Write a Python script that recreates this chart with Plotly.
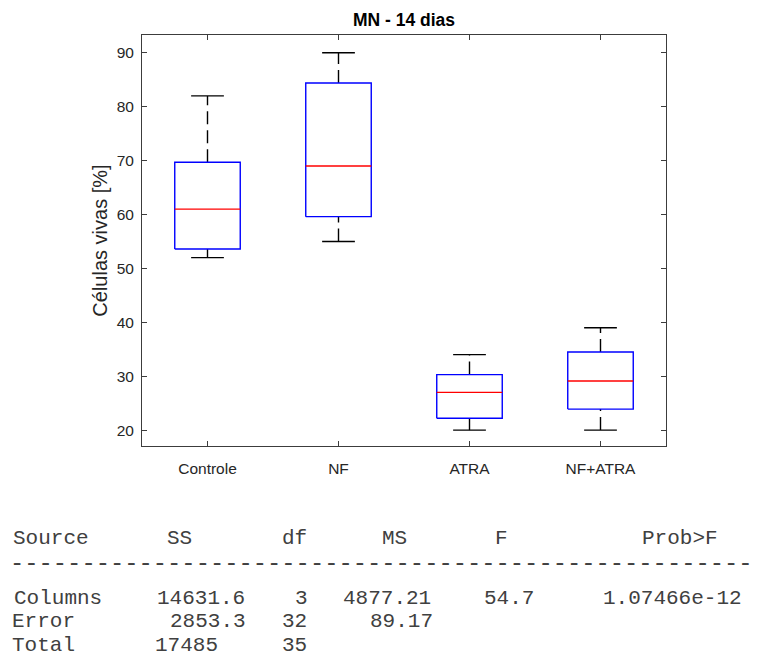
import plotly.graph_objects as go

# ---------------- data ----------------
categories = ["Controle", "NF", "ATRA", "NF+ATRA"]
q1 = [53.6, 59.6, 22.2, 23.9]
medians = [61.0, 69.0, 27.0, 29.1]
q3 = [69.7, 84.4, 30.3, 34.5]
lower_adj = [52.0, 55.0, 20.0, 20.0]
upper_adj = [82.0, 90.0, 34.0, 39.0]
y_ticks = [20, 30, 40, 50, 60, 70, 80, 90]

title_text = "MN - 14 dias"
y_label = "Células vivas [%]"

# ANOVA table
tbl_header = ["Source", "SS", "df", "MS", "F", "Prob>F"]
tbl_source = ["Columns", "Error", "Total"]
tbl_ss = ["14631.6", "2853.3", "17485"]
tbl_df = ["3", "32", "35"]
tbl_ms = ["4877.21", "89.17", ""]
tbl_f = ["54.7", "", ""]
tbl_p = ["1.07466e-12", "", ""]

# ---------------- styling ----------------
HALF_BOX = 0.25
HALF_CAP = 0.125
FONT = "Liberation Sans, Arial, sans-serif"
MONO = "Liberation Mono, Courier New, monospace"
AXCOL = "#3c3c3c"
TXTCOL = "#262626"

bx, by, mx, my, wx, wy, cx, cy = [], [], [], [], [], [], [], []
for i in range(len(categories)):
    p = i + 1
    bx += [p - HALF_BOX, p + HALF_BOX, p + HALF_BOX, p - HALF_BOX, p - HALF_BOX, None]
    by += [q1[i], q1[i], q3[i], q3[i], q1[i], None]
    mx += [p - HALF_BOX, p + HALF_BOX, None]
    my += [medians[i], medians[i], None]
    wx += [p, p, None, p, p, None]
    wy += [lower_adj[i], q1[i], None, q3[i], upper_adj[i], None]
    cx += [p - HALF_CAP, p + HALF_CAP, None, p - HALF_CAP, p + HALF_CAP, None]
    cy += [lower_adj[i], lower_adj[i], None, upper_adj[i], upper_adj[i], None]

fig = go.Figure()
fig.add_trace(go.Scatter(x=wx, y=wy, mode="lines", hoverinfo="skip",
                         line=dict(color="black", width=1.4, dash="13px,6px")))
fig.add_trace(go.Scatter(x=cx, y=cy, mode="lines", hoverinfo="skip",
                         line=dict(color="black", width=1.4)))
fig.add_trace(go.Scatter(x=bx, y=by, mode="lines", hoverinfo="skip",
                         line=dict(color="#0000ff", width=1.4)))
fig.add_trace(go.Scatter(x=mx, y=my, mode="lines", hoverinfo="skip",
                         line=dict(color="#ff0000", width=1.4)))

# page body has an 8px margin -> figure is 8px smaller and offset
OFF = 8
W, H = 758 - OFF, 666 - OFF
L, T = 142 - OFF, 35 - OFF
R = W - (666 - OFF)
B = H - (446 - OFF)
PW, PH = W - L - R, H - T - B

axis_common = dict(showline=True, linecolor=AXCOL, linewidth=1, mirror="ticks",
                   ticks="inside", ticklen=5, tickcolor=AXCOL, tickwidth=1,
                   showgrid=False, zeroline=False,
                   tickfont=dict(family=FONT, size=15.5, color=TXTCOL))

fig.update_layout(
    width=W, height=H,
    margin=dict(l=L, r=R, t=T, b=B, autoexpand=False),
    paper_bgcolor="white", plot_bgcolor="white",
    showlegend=False,
    title=dict(text="<b>" + title_text + "</b>", x=(L + PW / 2) / W, xanchor="center",
               xref="container", yref="container", y=1 - (19.5 - OFF) / H, yanchor="middle",
               font=dict(family=FONT, size=17.5, color="black")),
    xaxis=dict(range=[0.5, 4.5], tickmode="array",
               tickvals=list(range(1, len(categories) + 1)), ticktext=categories,
               ticklabelstandoff=8, **axis_common),
    yaxis=dict(range=[17.05, 93.3], tickmode="array", tickvals=y_ticks,
               ticklabelstandoff=4,
               title=dict(text=y_label, standoff=3,
                          font=dict(family=FONT, size=20, color=TXTCOL)),
               **axis_common),
)

# ---------------- ANOVA table ----------------
CH = 14.3          # character cell width in the reference (px)
X0 = 8 - OFF       # left edge of first column
TFONT = dict(family=MONO, size=21, color="#404040")


def add_cell(text, col, y_ref):
    if not text:
        return
    xc = X0 + (col + len(text) / 2) * CH
    fig.add_annotation(text=text.replace(" ", "\u00a0"), xref="paper", yref="paper",
                       x=(xc - L) / PW, xanchor="center",
                       y=(H - B - (y_ref - OFF)) / PH, yanchor="middle",
                       showarrow=False, font=TFONT)


header_cols = [0, 11, 19, 26, 34, 44]
for txt, col in zip(tbl_header, header_cols):
    add_cell(txt, col, 538)

# dashed separator
fig.add_annotation(text="-" * 52, xref="paper", yref="paper",
                   x=(X0 - L) / PW, xanchor="left",
                   y=(H - B - (563 - OFF)) / PH, yanchor="middle",
                   showarrow=False, font=dict(family=MONO, size=23.8, color="#404040"))

row_y = [598, 621, 645]
ss_cols = [10, 11, 10]
df_cols = [20, 19, 19]
ms_cols = [23, 25, 25]
for i in range(len(tbl_source)):
    add_cell(tbl_source[i], 0, row_y[i])
    add_cell(tbl_ss[i], ss_cols[i], row_y[i])
    add_cell(tbl_df[i], df_cols[i], row_y[i])
    add_cell(tbl_ms[i], ms_cols[i], row_y[i])
    add_cell(tbl_f[i], 33, row_y[i])
    add_cell(tbl_p[i], 41, row_y[i])

fig.write_html("out.html")
